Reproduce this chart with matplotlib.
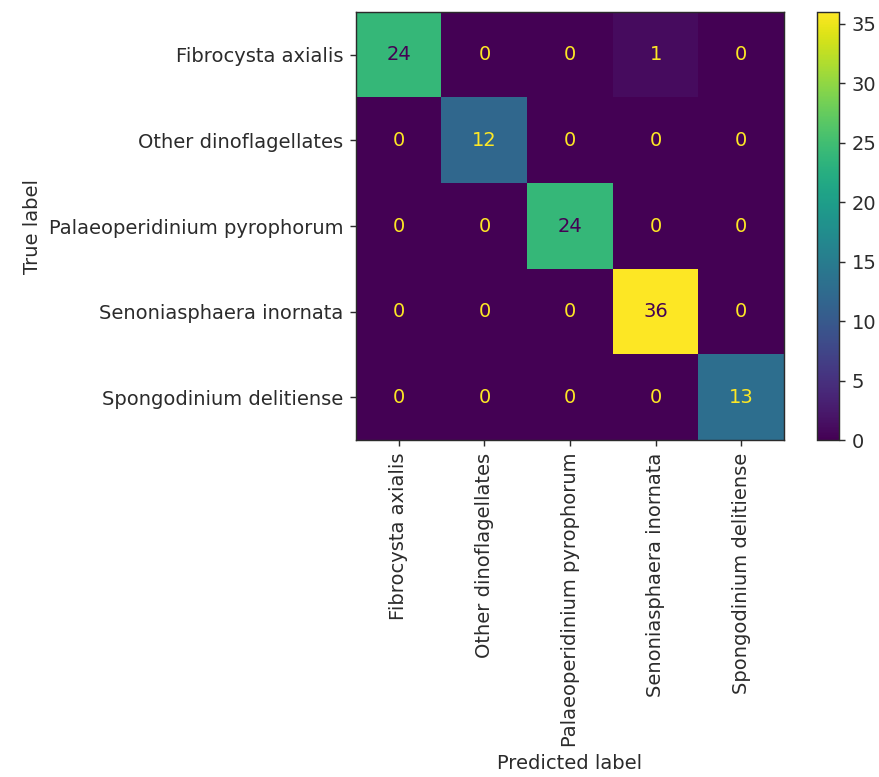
import numpy as np
import matplotlib
matplotlib.use("Agg")
import matplotlib.pyplot as plt

classes = ["Fibrocysta axialis", "Other dinoflagellates", "Palaeoperidinium pyrophorum",
           "Senoniasphaera inornata", "Spongodinium delitiense"]
cm = np.array([
    [24, 0, 0, 1, 0],
    [0, 12, 0, 0, 0],
    [0, 0, 24, 0, 0],
    [0, 0, 0, 36, 0],
    [0, 0, 0, 0, 13],
])

ink = "#2b2b2b"
plt.rcParams.update({
    "font.size": 11,
    "text.color": ink,
    "axes.labelcolor": ink,
    "xtick.color": ink,
    "ytick.color": ink,
    "axes.edgecolor": ink,
})

W, H, DPI = 879, 777, 128
fig = plt.figure(figsize=(W / DPI, H / DPI), dpi=DPI)

def px_axes(x0, y0, x1, y1):
    return fig.add_axes([x0 / W, 1 - y1 / H, (x1 - x0) / W, (y1 - y0) / H])

ax = px_axes(356, 12, 784, 440)
cax = px_axes(817, 12, 839, 440)

cmap = plt.get_cmap("viridis")
im = ax.imshow(cm, interpolation="nearest", cmap=cmap, aspect="auto")
fig.colorbar(im, cax=cax)

thresh = (cm.max() + cm.min()) / 2.0
n = len(classes)
for i in range(n):
    for j in range(n):
        color = cmap(0) if cm[i, j] >= thresh else cmap(256)
        ax.text(j, i, str(cm[i, j]), ha="center", va="center", color=color)

ax.set_xticks(range(n))
ax.set_yticks(range(n))
ax.set_xticklabels(classes, rotation=90)
ax.set_yticklabels(classes)
ax.set_xlabel("Predicted label")
ax.set_ylabel("True label")
ax.set_xlim(-0.5, n - 0.5)
ax.set_ylim(n - 0.5, -0.5)

fig.savefig("out.png", dpi=DPI)
